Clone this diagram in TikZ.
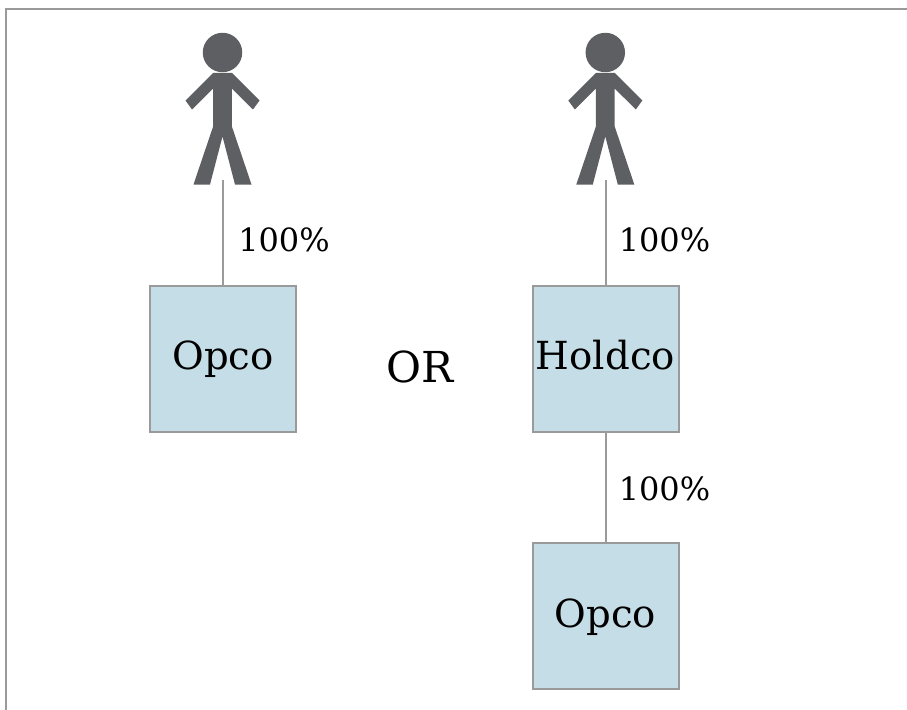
\documentclass[tikz,border=0pt]{standalone}
\usepackage{fontspec}
\setmainfont{DejaVu Serif}
\definecolor{linegray}{HTML}{9A9A9A}
\definecolor{boxfill}{HTML}{C5DDE6}
\definecolor{figgray}{HTML}{5E5F63}
\begin{document}
\begin{tikzpicture}[x=0.75pt,y=-0.75pt,
  entity/.style={draw=linegray, line width=1.5pt, fill=boxfill, inner sep=0pt,
    minimum width=109.5pt, minimum height=109.5pt,
    font=\fontsize{29}{34}\selectfont, text height=22pt, text depth=5.5pt},
  conn/.style={draw=linegray, line width=1.5pt},
  pct/.style={inner sep=0pt, font=\fontsize{24}{28}\selectfont},
  orlabel/.style={inner sep=0pt, font=\fontsize{32}{38}\selectfont},
  person/.style={fill=figgray}]
\useasboundingbox (0,0) rectangle (907,710);
% frame
\draw[linegray, line width=1.5pt] (6.2,710) -- (6.2,9.5) -- (907,9.5);
% persons
\foreach \px in {222.5,605.3}{
  \begin{scope}[shift={(\px,52.5)}]
    \fill[person] (0,0) circle[radius=14.8pt];
    \fill[person] (-9.4,20.4) -- (-37,48) -- (-30.5,57) -- (-9.4,36) -- (-9.4,74)
      -- (-29,132) -- (-12.5,132) -- (0,84) -- (12.5,132) -- (29,132) -- (9.4,74)
      -- (9.4,36) -- (30.5,57) -- (37,48) -- (9.4,20.4) -- cycle;
  \end{scope}
}
\coordinate (personL) at (223,180);
\coordinate (personR) at (605.5,180);
% boxes
\node[entity] (opcoL) at (223,358.5) {Opco};
\node[entity] (holdco) at (605.5,358.5) {Holdco};
\node[entity] (opcoR) at (605.5,616) {Opco};
% connectors
\draw[conn] (personL) -- (opcoL);
\draw[conn] (personR) -- (holdco);
\draw[conn] (holdco) -- (opcoR);
% labels
\node[pct, anchor=base west] (pL) at (238,251) {100\%};
\node[pct, anchor=base west] (pR) at (618.5,251) {100\%};
\node[pct, anchor=base west] (pM) at (618.5,500) {100\%};
\node[orlabel, anchor=base] (or) at (420,382) {OR};
\end{tikzpicture}
\end{document}
